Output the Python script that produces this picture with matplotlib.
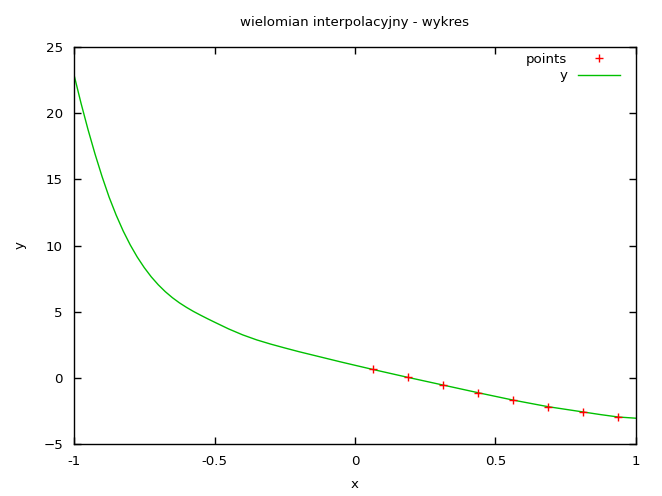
import numpy as np
import matplotlib
matplotlib.use("Agg")
import matplotlib.pyplot as plt

# interpolation nodes
points_x = [0.0625, 0.1875, 0.3125, 0.4375, 0.5625, 0.6875, 0.8125, 0.9375]
points_y = [0.64, 0.04, -0.54, -1.12, -1.68, -2.18, -2.58, -2.96]

# polynomial curve
curve_x = [-1.0, -0.975, -0.95, -0.925, -0.9, -0.875, -0.85, -0.825, -0.8,
           -0.775, -0.75, -0.725, -0.7, -0.675, -0.65, -0.625, -0.6, -0.575,
           -0.55, -0.525, -0.5, -0.45, -0.4, -0.35, -0.3, -0.25, -0.2, -0.15,
           -0.1, -0.05, 0.0, 0.0625, 0.125, 0.1875, 0.25, 0.3125, 0.375,
           0.4375, 0.5, 0.5625, 0.625, 0.6875, 0.75, 0.8125, 0.875, 0.9375, 1.0]
curve_y = [22.9, 20.75, 18.75, 16.9, 15.2, 13.65, 12.3, 11.1, 10.05,
           9.13, 8.33, 7.63, 7.03, 6.51, 6.06, 5.67, 5.33, 5.02,
           4.74, 4.47, 4.21, 3.7, 3.25, 2.87, 2.55, 2.26, 1.98, 1.72,
           1.46, 1.2, 0.95, 0.64, 0.34, 0.04, -0.25, -0.54, -0.83,
           -1.12, -1.4, -1.68, -1.93, -2.18, -2.38, -2.58, -2.78, -2.96, -3.05]

xticks = [-1, -0.5, 0, 0.5, 1]
xtick_labels = ["-1", "-0.5", "0", "0.5", "1"]
yticks = [-5, 0, 5, 10, 15, 20, 25]

plt.rcParams['font.family'] = 'DejaVu Sans'
plt.rcParams['font.size'] = 9.6

fig = plt.figure(figsize=(6.62, 4.96), dpi=100)
ax = fig.add_axes([0.1118, 0.1048, 0.8489, 0.8004])

ax.plot(points_x, points_y, linestyle='none', marker='+', color='#ff0000',
        markersize=6, markeredgewidth=1, label='points', zorder=3)
ax.plot(curve_x, curve_y, color='#00c000', linewidth=1, label='y', zorder=2)

ax.set_xlim(-1, 1)
ax.set_ylim(-5, 25)
ax.set_xticks(xticks)
ax.set_xticklabels(xtick_labels)
ax.set_yticks(yticks)
ax.tick_params(direction='in', top=True, right=True, length=5, width=1, pad=8)
for s in ax.spines.values():
    s.set_linewidth(1)

ax.set_title('wielomian interpolacyjny - wykres', fontsize=9.6, pad=15)
ax.set_xlabel('x', labelpad=7)
ax.set_ylabel('y', labelpad=12)

leg = ax.legend(loc='upper right', bbox_to_anchor=(0.9715, 0.985),
                frameon=False, markerfirst=False, handlelength=3.15,
                handletextpad=0.8, borderaxespad=0, borderpad=0,
                labelspacing=0.25, fontsize=9.6)
for t in leg.get_texts():
    t.set_ha('right')
leg._legend_box.align = 'right'

fig.savefig('out.png', dpi=100)
